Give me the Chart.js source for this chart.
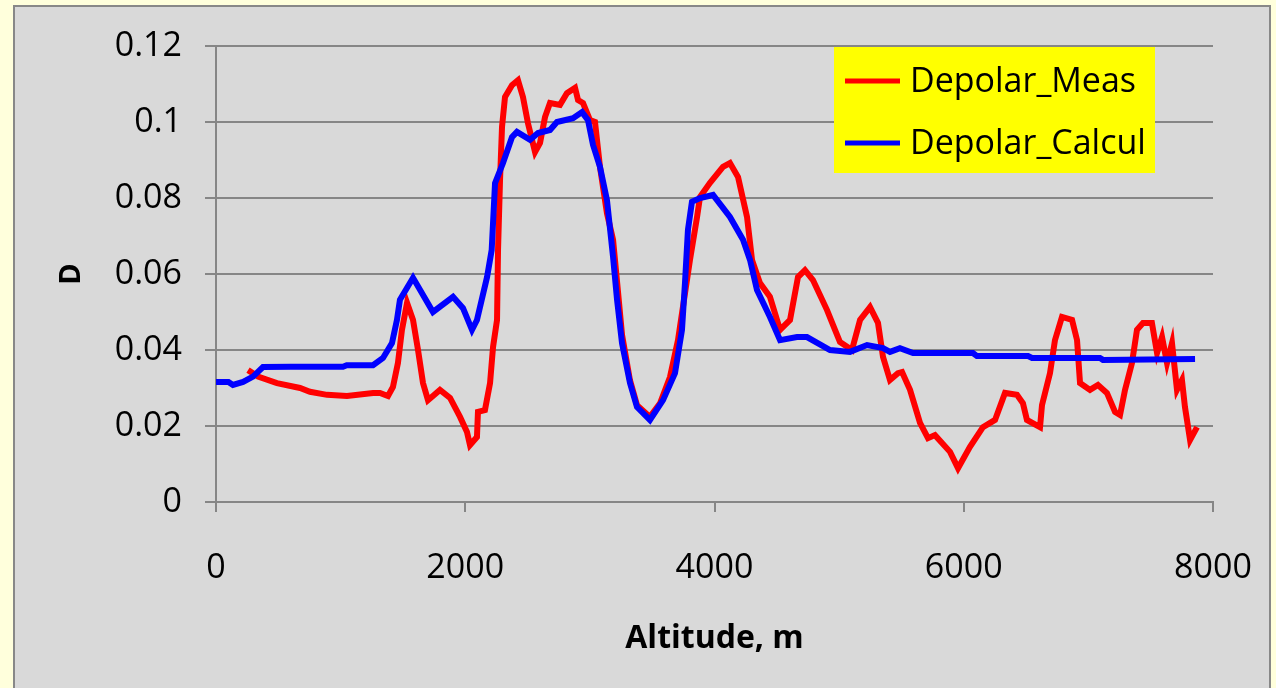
<!DOCTYPE html>
<html>
<head>
<meta charset="utf-8">
<title>Depolarization vs altitude</title>
<script src="https://cdn.jsdelivr.net/npm/chart.js@4.4.1/dist/chart.umd.min.js"></script>
<style>
  html, body { margin: 0; padding: 0; background: #FFFFDC; }
  #wrap { width: 1276px; height: 688px; }
</style>
</head>
<body>
<div id="wrap"><canvas id="depolChart" width="1276" height="688"></canvas></div>
<script>
// Measured depolarization profile
const measAlt = [257, 337, 489, 674, 754, 891, 1051, 1260, 1316, 1380, 1420, 1460, 1492, 1533, 1581, 1621, 1661, 1701, 1797, 1878,
  1958, 2014, 2038, 2094, 2102, 2158, 2199, 2223, 2255, 2263, 2279, 2295, 2319, 2375, 2423, 2463, 2503, 2560, 2600, 2640,
  2680, 2760, 2816, 2881, 2905, 2945, 3001, 3041, 3081, 3137, 3186, 3218, 3258, 3322, 3378, 3482, 3563, 3643, 3707, 3803,
  3860, 3884, 3964, 4068, 4124, 4189, 4261, 4301, 4365, 4445, 4526, 4606, 4670, 4726, 4790, 4903, 4967, 5007, 5103, 5168,
  5248, 5312, 5352, 5408, 5472, 5505, 5569, 5649, 5713, 5769, 5890, 5954, 6050, 6154, 6251, 6331, 6427, 6475, 6507, 6612,
  6628, 6692, 6732, 6788, 6869, 6909, 6933, 7013, 7077, 7149, 7214, 7254, 7294, 7350, 7390, 7438, 7510, 7551, 7591, 7631,
  7671, 7711, 7751, 7775, 7816, 7872];
const measD = [0.0347, 0.033, 0.0313, 0.030, 0.029, 0.0282, 0.0279, 0.0287, 0.0287, 0.0279, 0.0303, 0.0366, 0.0453, 0.0524, 0.0479, 0.040, 0.0313, 0.0268, 0.0295, 0.0274,
  0.0224, 0.0184, 0.015, 0.0171, 0.0237, 0.0242, 0.0313, 0.0408, 0.0479, 0.0663, 0.0847, 0.0987, 0.1066, 0.1097, 0.111, 0.1066, 0.0997, 0.0921, 0.0945, 0.1013,
  0.105, 0.1045, 0.1076, 0.109, 0.1058, 0.105, 0.1005, 0.100, 0.0882, 0.076, 0.069, 0.058, 0.044, 0.032, 0.0255, 0.0224, 0.026, 0.0329, 0.0426, 0.0637,
  0.075, 0.0803, 0.084, 0.0882, 0.0892, 0.0855, 0.075, 0.0637, 0.0576, 0.054, 0.0453, 0.0479, 0.0592, 0.061, 0.0584, 0.0505, 0.0453, 0.0421, 0.040, 0.0479,
  0.0513, 0.0471, 0.0382, 0.0321, 0.0339, 0.0342, 0.0295, 0.0208, 0.0168, 0.0176, 0.0132, 0.0089, 0.0145, 0.0197, 0.0216, 0.0287, 0.0282, 0.026, 0.0216, 0.0197,
  0.0255, 0.0339, 0.0426, 0.0487, 0.0479, 0.0426, 0.0313, 0.0295, 0.0308, 0.0287, 0.0237, 0.0229, 0.0295, 0.0366, 0.0453, 0.0471, 0.0471, 0.0392, 0.0434, 0.0366,
  0.0418, 0.0295, 0.0321, 0.025, 0.0163, 0.0197];

// Calculated depolarization profile
const calcAlt = [0, 100, 136, 217, 297, 377, 600, 1019, 1049, 1260, 1340, 1412, 1452, 1476, 1581, 1741, 1902, 1982, 2054, 2094,
  2175, 2212, 2239, 2303, 2375, 2415, 2520, 2584, 2680, 2736, 2865, 2937, 2985, 3025, 3081, 3137, 3186, 3218, 3258, 3322,
  3378, 3482, 3587, 3683, 3739, 3763, 3787, 3819, 3884, 3988, 4124, 4229, 4285, 4341, 4445, 4526, 4662, 4742, 4927, 5087,
  5224, 5352, 5408, 5488, 5593, 6074, 6106, 6516, 6548, 7093, 7117, 7856];
const calcD = [0.0316, 0.0316, 0.0308, 0.0316, 0.033, 0.0355, 0.0356, 0.0356, 0.036, 0.036, 0.0379, 0.0418, 0.0479, 0.0532, 0.059, 0.050, 0.054, 0.051, 0.0453, 0.0479,
  0.0592, 0.0663, 0.0839, 0.0892, 0.096, 0.0974, 0.0953, 0.0971, 0.0979, 0.100, 0.101, 0.1026, 0.1005, 0.094, 0.0882, 0.0795, 0.0645, 0.0532, 0.0418, 0.0313,
  0.025, 0.0216, 0.0268, 0.0339, 0.0453, 0.0576, 0.0716, 0.079, 0.080, 0.0808, 0.075, 0.069, 0.0637, 0.0558, 0.0487, 0.0426, 0.0434, 0.0434, 0.040, 0.0395,
  0.0413, 0.0405, 0.0395, 0.0405, 0.0392, 0.0392, 0.0384, 0.0384, 0.0379, 0.0379, 0.0374, 0.0376];

const seriesNames = ['Depolar_Meas', 'Depolar_Calcul'];
const seriesColors = ['#FF0000', '#0000FF'];

function toPoints(xs, ys) {
    return xs.map((x, i) => ({ x: x, y: ys[i] }));
}

// Yellow page, grey chart panel with a thin border
const panelBackground = {
    id: 'panelBackground',
    beforeDraw(chart) {
        const ctx = chart.ctx;
        ctx.save();
        ctx.fillStyle = '#FFFFDC';
        ctx.fillRect(0, 0, chart.width, chart.height);
        ctx.fillStyle = '#D9D9D9';
        ctx.fillRect(14, 6, 1256, chart.height);
        ctx.strokeStyle = '#888888';
        ctx.lineWidth = 2;
        ctx.strokeRect(14, 6, 1256, chart.height + 10);
        ctx.restore();
    }
};

// Legend box drawn inside the plot, top right
const boxLegend = {
    id: 'boxLegend',
    afterDraw(chart) {
        const ctx = chart.ctx;
        const x0 = 834, y0 = 47, w = 321, h = 126;
        ctx.save();
        ctx.fillStyle = '#FFFF00';
        ctx.fillRect(x0, y0, w, h);
        ctx.font = '34px "Open Sans"';
        ctx.textBaseline = 'middle';
        chart.data.datasets.forEach((ds, i) => {
            const y = 81 + i * 62;
            ctx.strokeStyle = ds.borderColor;
            ctx.lineWidth = 5;
            ctx.beginPath();
            ctx.moveTo(845, y);
            ctx.lineTo(900, y);
            ctx.stroke();
            ctx.fillStyle = '#000000';
            ctx.fillText(ds.label, 910, y + 1);
        });
        ctx.restore();
    }
};

const ctx = document.getElementById('depolChart').getContext('2d');
const depolChart = new Chart(ctx, {
    type: 'line',
    data: {
        datasets: [
            {
                label: seriesNames[0],
                data: toPoints(measAlt, measD),
                borderColor: seriesColors[0],
                backgroundColor: seriesColors[0],
                borderWidth: 6,
                pointRadius: 0,
                tension: 0,
                order: 1
            },
            {
                label: seriesNames[1],
                data: toPoints(calcAlt, calcD),
                borderColor: seriesColors[1],
                backgroundColor: seriesColors[1],
                borderWidth: 6,
                pointRadius: 0,
                tension: 0,
                order: 0
            }
        ]
    },
    options: {
        responsive: false,
        animation: false,
        devicePixelRatio: 1,
        layout: {
            padding: { left: 14, top: 46, right: 63, bottom: 0 }
        },
        plugins: {
            legend: { display: false },
            tooltip: { enabled: false }
        },
        scales: {
            x: {
                type: 'linear',
                min: 0,
                max: 8000,
                afterFit: (scale) => {
                    // fixed axis height; the layout padding already leaves room for the end labels
                    scale.height = 186;
                    scale.paddingLeft = 0;
                    scale.paddingRight = 0;
                },
                ticks: {
                    stepSize: 2000,
                    padding: 36,
                    color: '#000000',
                    font: { family: 'Open Sans', size: 34 },
                    maxRotation: 0,
                    callback: (v) => String(v)
                },
                grid: {
                    color: 'rgba(0,0,0,0)',
                    tickColor: '#868686',
                    drawTicks: true,
                    tickLength: 10,
                    lineWidth: 2
                },
                border: { display: true, color: '#868686', width: 2 },
                title: {
                    display: true,
                    text: 'Altitude, m',
                    color: '#000000',
                    font: { family: 'Open Sans', size: 32, weight: 'bold' },
                    padding: { top: 0, bottom: 30 }
                }
            },
            y: {
                min: 0,
                max: 0.12,
                afterFit: (scale) => { scale.width = 202; },
                ticks: {
                    stepSize: 0.02,
                    padding: 23,
                    color: '#000000',
                    font: { family: 'Open Sans', size: 34 },
                    callback: (v) => String(Number(v.toFixed(2)))
                },
                grid: {
                    color: '#868686',
                    tickColor: '#868686',
                    tickLength: 11,
                    lineWidth: 2
                },
                border: { display: true, color: '#868686', width: 2 },
                title: {
                    display: true,
                    text: 'D',
                    color: '#000000',
                    font: { family: 'Open Sans', size: 29, weight: 'bold' },
                    padding: { top: 40, bottom: 0 }
                }
            }
        }
    },
    plugins: [panelBackground, boxLegend]
});
</script>
</body>
</html>
